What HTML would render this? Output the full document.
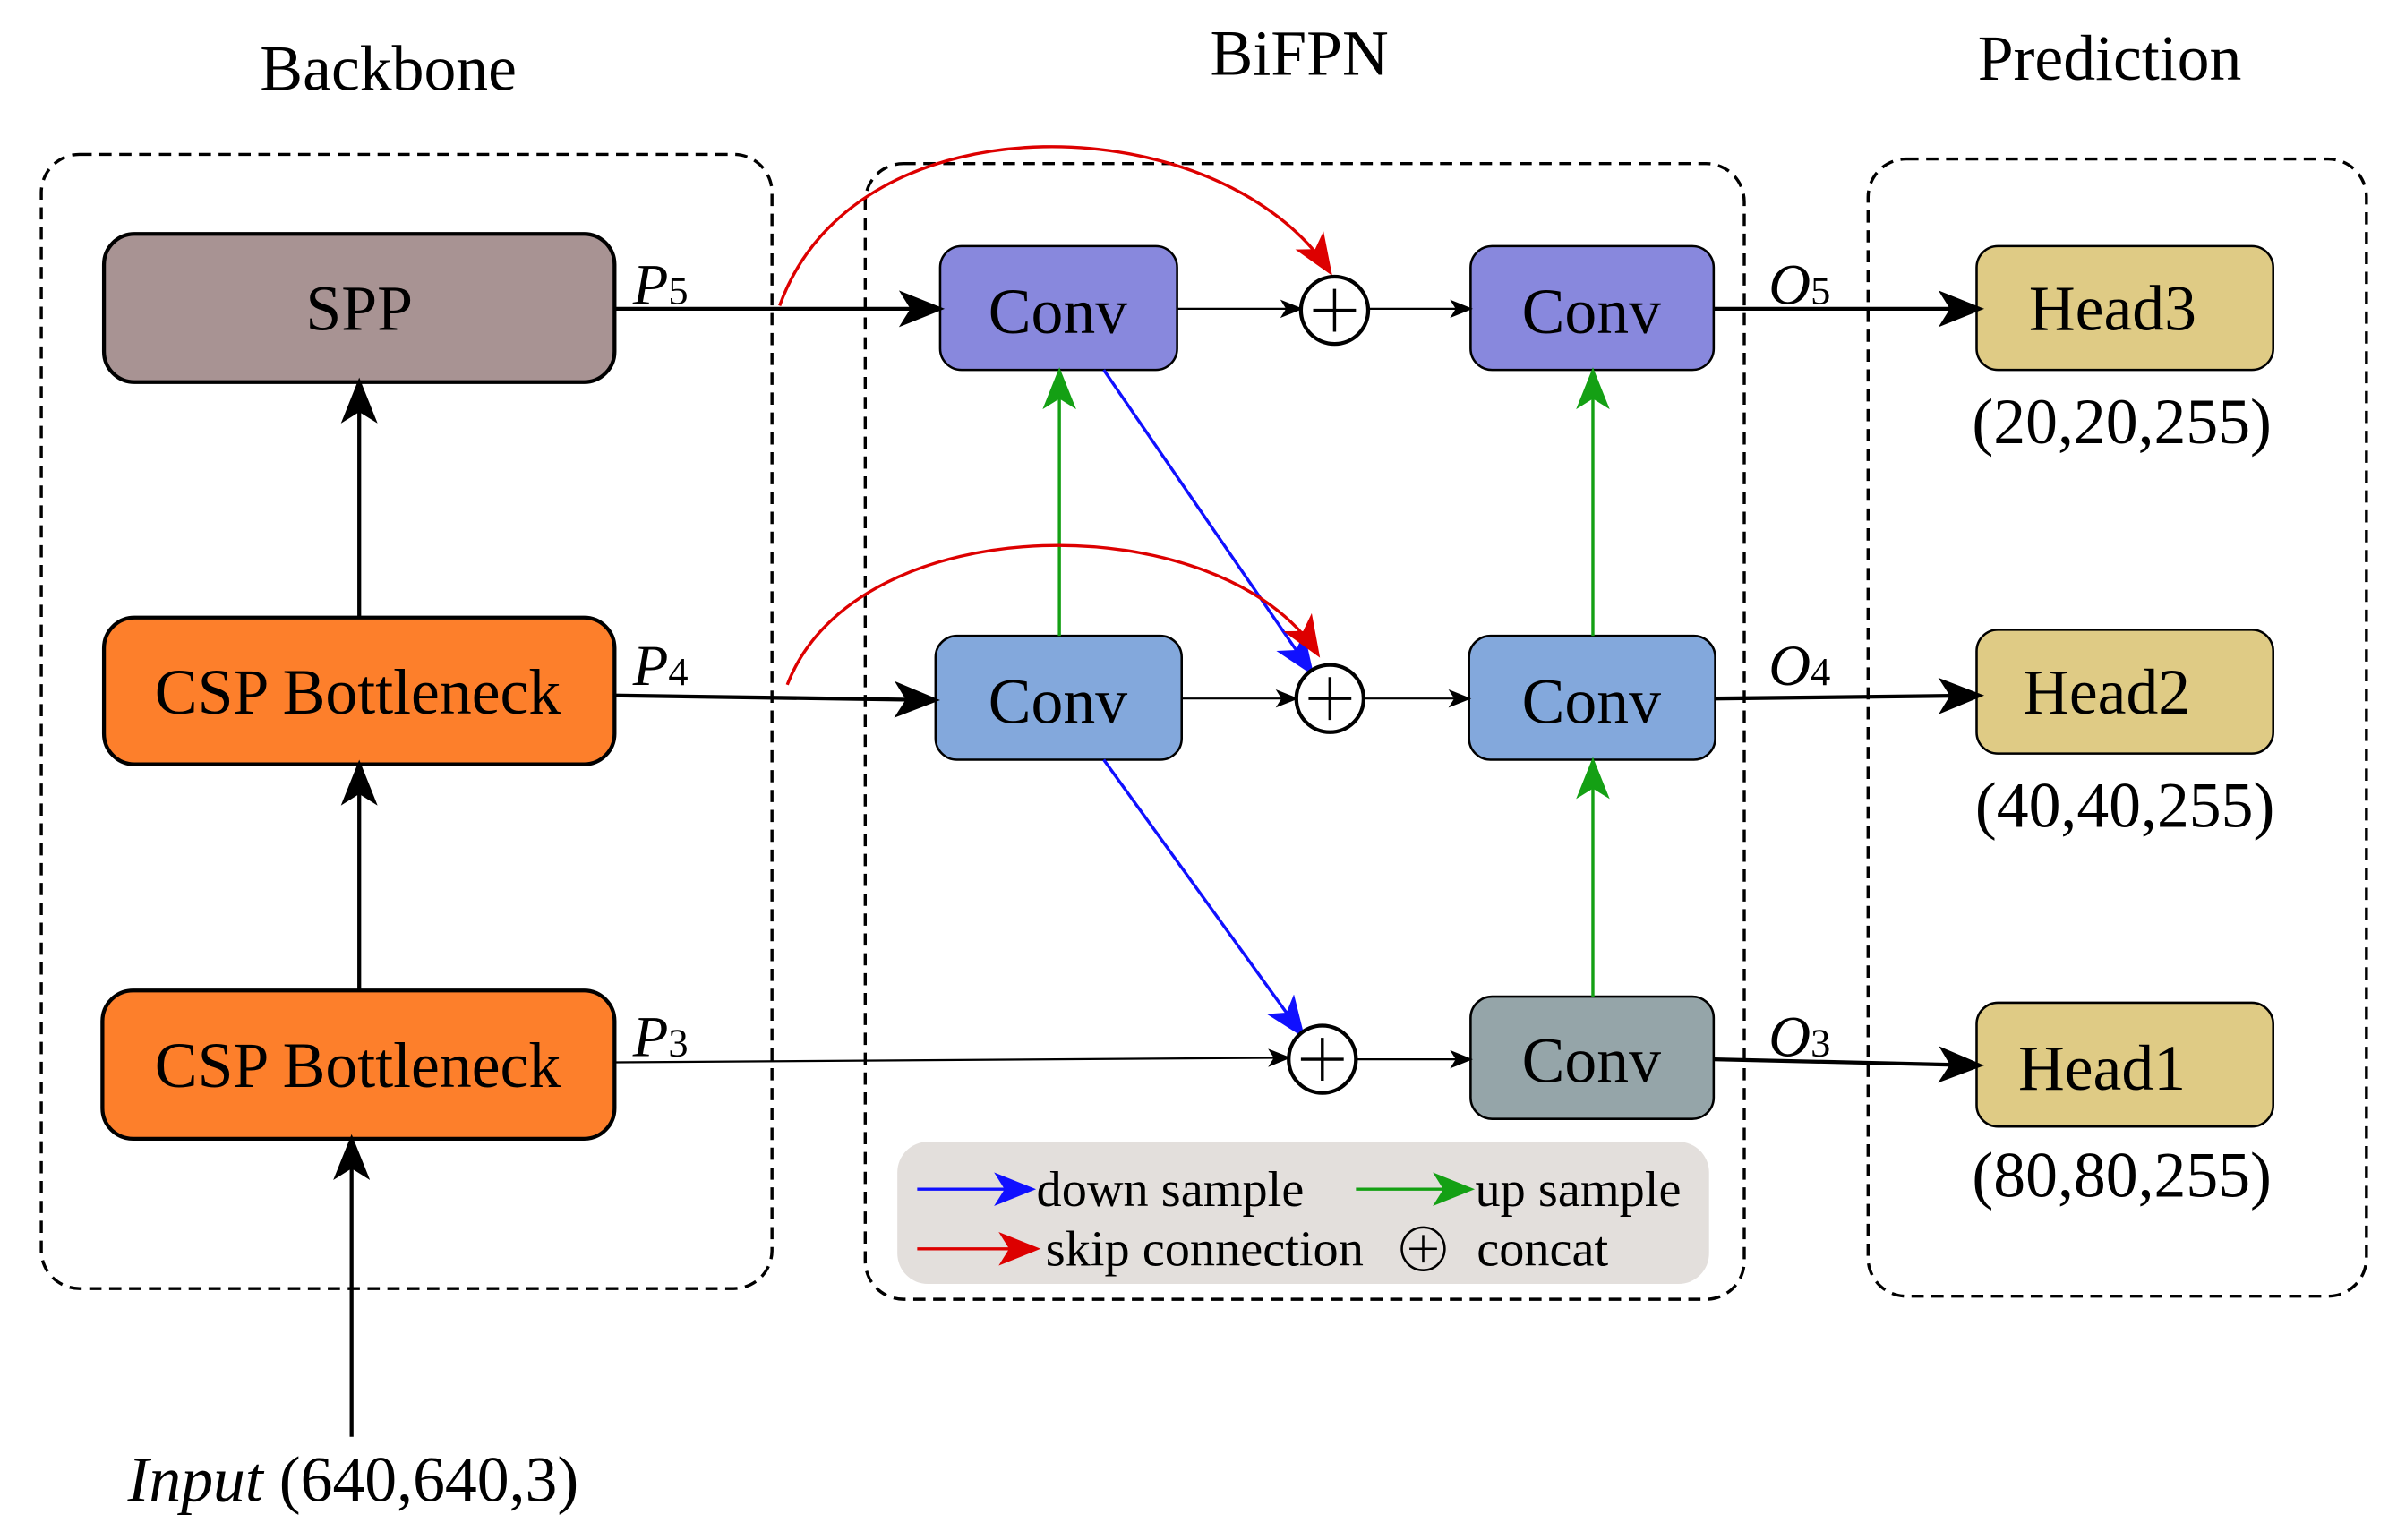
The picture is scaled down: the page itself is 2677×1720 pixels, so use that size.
<!DOCTYPE html>
<html><head><meta charset="utf-8"><style>html,body{margin:0;padding:0;background:#fff}svg{display:block}</style></head>
<body>
<svg width="2677" height="1720" viewBox="0 0 1568 1007.5" preserveAspectRatio="none" xmlns="http://www.w3.org/2000/svg" font-family="Liberation Serif, serif">
<defs>
<marker id="abig" viewBox="0 0 10 8" markerWidth="32" markerHeight="24" refX="9" refY="4" orient="auto" markerUnits="userSpaceOnUse"><path d="M0,0 L10,4 L0,8 L2.5,4 Z" fill="#000"/></marker>
<marker id="asm" viewBox="0 0 10 8" markerWidth="16" markerHeight="12" refX="9" refY="4" orient="auto" markerUnits="userSpaceOnUse"><path d="M0,0 L10,4 L0,8 L2.5,4 Z" fill="#000"/></marker>
<marker id="ag" viewBox="0 0 10 8" markerWidth="28" markerHeight="22" refX="9" refY="4" orient="auto" markerUnits="userSpaceOnUse"><path d="M0,0 L10,4 L0,8 L2.5,4 Z" fill="#14a014"/></marker>
<marker id="abl" viewBox="0 0 10 8" markerWidth="30" markerHeight="22" refX="9" refY="4" orient="auto" markerUnits="userSpaceOnUse"><path d="M0,0 L10,4 L0,8 L2.5,4 Z" fill="#1010ff"/></marker>
<marker id="ar" viewBox="0 0 10 8" markerWidth="30" markerHeight="22" refX="9" refY="4" orient="auto" markerUnits="userSpaceOnUse"><path d="M0,0 L10,4 L0,8 L2.5,4 Z" fill="#dd0000"/></marker>
</defs>
<g font-size="42" text-anchor="middle">
<text x="254" y="59">Backbone</text><text x="850" y="49">BiFPN</text><text x="1380" y="52">Prediction</text>
</g>
<g fill="none" stroke="#000" stroke-width="2" stroke-dasharray="8,5">
<rect x="27" y="101" width="478" height="742" rx="25"/>
<rect x="566" y="107" width="575" height="743" rx="25"/>
<rect x="1222" y="104" width="326" height="744" rx="25"/>
</g>
<rect x="587" y="747" width="531" height="93" rx="20" fill="#e3dfdc"/>
<g stroke="#000" stroke-width="2.5">
<rect x="68" y="153" width="334" height="97" rx="20" fill="#a89393"/>
<rect x="68" y="404" width="334" height="96" rx="20" fill="#fd7f2b"/>
<rect x="67" y="648" width="335" height="97" rx="20" fill="#fd7f2b"/>
</g>
<g stroke="#000" stroke-width="1.5">
<rect x="615" y="161" width="155" height="81" rx="14" fill="#8888dd"/>
<rect x="962" y="161" width="159" height="81" rx="14" fill="#8888dd"/>
<rect x="612" y="416" width="161" height="81" rx="14" fill="#83a8dc"/>
<rect x="961" y="416" width="161" height="81" rx="14" fill="#83a8dc"/>
<rect x="962" y="652" width="159" height="80" rx="14" fill="#95a5a9"/>
<rect x="1293" y="161" width="194" height="81" rx="14" fill="#dfcb85"/>
<rect x="1293" y="412" width="194" height="81" rx="14" fill="#dfcb85"/>
<rect x="1293" y="656" width="194" height="81" rx="14" fill="#dfcb85"/>
</g>
<g font-size="42" text-anchor="middle">
<text x="235" y="216">SPP</text><text x="234" y="467">CSP Bottleneck</text><text x="234" y="711">CSP Bottleneck</text>
<text x="692" y="218">Conv</text><text x="1041" y="218">Conv</text><text x="692" y="473">Conv</text><text x="1041" y="473">Conv</text><text x="1041" y="708">Conv</text>
<text x="1382" y="216">Head3</text><text x="1378" y="467">Head2</text><text x="1375" y="713">Head1</text>
<text x="1388" y="290">(20,20,255)</text><text x="1390" y="541">(40,40,255)</text><text x="1388" y="783">(80,80,255)</text>
<text x="231" y="982"><tspan font-style="italic">Input</tspan> (640,640,3)</text>
</g>
<g font-size="38" font-style="italic">
<text x="414" y="199">P<tspan font-size="26" font-style="normal">5</tspan></text>
<text x="414" y="448">P<tspan font-size="26" font-style="normal">4</tspan></text>
<text x="414" y="691">P<tspan font-size="26" font-style="normal">3</tspan></text>
<text x="1157" y="199">O<tspan font-size="26" font-style="normal">5</tspan></text>
<text x="1157" y="448">O<tspan font-size="26" font-style="normal">4</tspan></text>
<text x="1157" y="691">O<tspan font-size="26" font-style="normal">3</tspan></text>
</g>
<g stroke="#000" fill="none">
<line x1="235" y1="404" x2="235" y2="250" stroke-width="2.5" marker-end="url(#abig)"/>
<line x1="235" y1="648" x2="235" y2="500" stroke-width="2.5" marker-end="url(#abig)"/>
<line x1="230" y1="940" x2="230" y2="745" stroke-width="2.5" marker-end="url(#abig)"/>
<line x1="402" y1="202" x2="615" y2="202" stroke-width="2.5" marker-end="url(#abig)"/>
<line x1="402" y1="455" x2="612" y2="458" stroke-width="2.5" marker-end="url(#abig)"/>
<line x1="402" y1="695" x2="843" y2="692" stroke-width="1.3" marker-end="url(#asm)"/>
<line x1="770" y1="202" x2="851" y2="202" stroke-width="1.3" marker-end="url(#asm)"/>
<line x1="895" y1="202" x2="962" y2="202" stroke-width="1.3" marker-end="url(#asm)"/>
<line x1="773" y1="457" x2="848" y2="457" stroke-width="1.3" marker-end="url(#asm)"/>
<line x1="892" y1="457" x2="961" y2="457" stroke-width="1.3" marker-end="url(#asm)"/>
<line x1="887" y1="693" x2="962" y2="693" stroke-width="1.3" marker-end="url(#asm)"/>
<line x1="1121" y1="202" x2="1295" y2="202" stroke-width="2.5" marker-end="url(#abig)"/>
<line x1="1122" y1="457" x2="1295" y2="455" stroke-width="2.5" marker-end="url(#abig)"/>
<line x1="1121" y1="693" x2="1295" y2="697" stroke-width="2.5" marker-end="url(#abig)"/>
</g>
<g stroke="#14a014" stroke-width="2">
<line x1="693" y1="416" x2="693" y2="243" marker-end="url(#ag)"/>
<line x1="1042" y1="416" x2="1042" y2="243" marker-end="url(#ag)"/>
<line x1="1042" y1="652" x2="1042" y2="498" marker-end="url(#ag)"/>
</g>
<g stroke="#1010ff" stroke-width="2">
<line x1="722" y1="242" x2="858" y2="440" marker-end="url(#abl)"/>
<line x1="722" y1="497" x2="852" y2="677" marker-end="url(#abl)"/>
</g>
<g stroke="#dd0000" stroke-width="2" fill="none">
<path d="M510,200 C560,60 800,70 870,178" marker-end="url(#ar)"/>
<path d="M515,448 C560,330 800,330 862,428" marker-end="url(#ar)"/>
</g>
<g fill="#fff" stroke="#000" stroke-width="2.5">
<circle cx="873" cy="203" r="22"/><circle cx="870" cy="457" r="22"/><circle cx="865" cy="693" r="22"/>
</g>
<g stroke="#000" stroke-width="2">
<path d="M873,189 V217 M859,203 H887"/><path d="M870,443 V471 M856,457 H884"/><path d="M865,679 V707 M851,693 H879"/>
</g>
<line x1="600" y1="778" x2="675" y2="778" stroke="#1010ff" stroke-width="2" marker-end="url(#abl)"/>
<line x1="887" y1="778" x2="962" y2="778" stroke="#14a014" stroke-width="2" marker-end="url(#ag)"/>
<line x1="600" y1="817" x2="678" y2="817" stroke="#dd0000" stroke-width="2" marker-end="url(#ar)"/>
<circle cx="931" cy="817" r="14" fill="none" stroke="#000" stroke-width="1.5"/>
<path d="M931,808 V826 M922,817 H940" stroke="#000" stroke-width="1.5"/>
<g font-size="33">
<text x="678" y="789">down sample</text><text x="965" y="789">up sample</text>
<text x="684" y="828">skip connection</text><text x="966" y="828">concat</text>
</g>
</svg>
</body></html>
